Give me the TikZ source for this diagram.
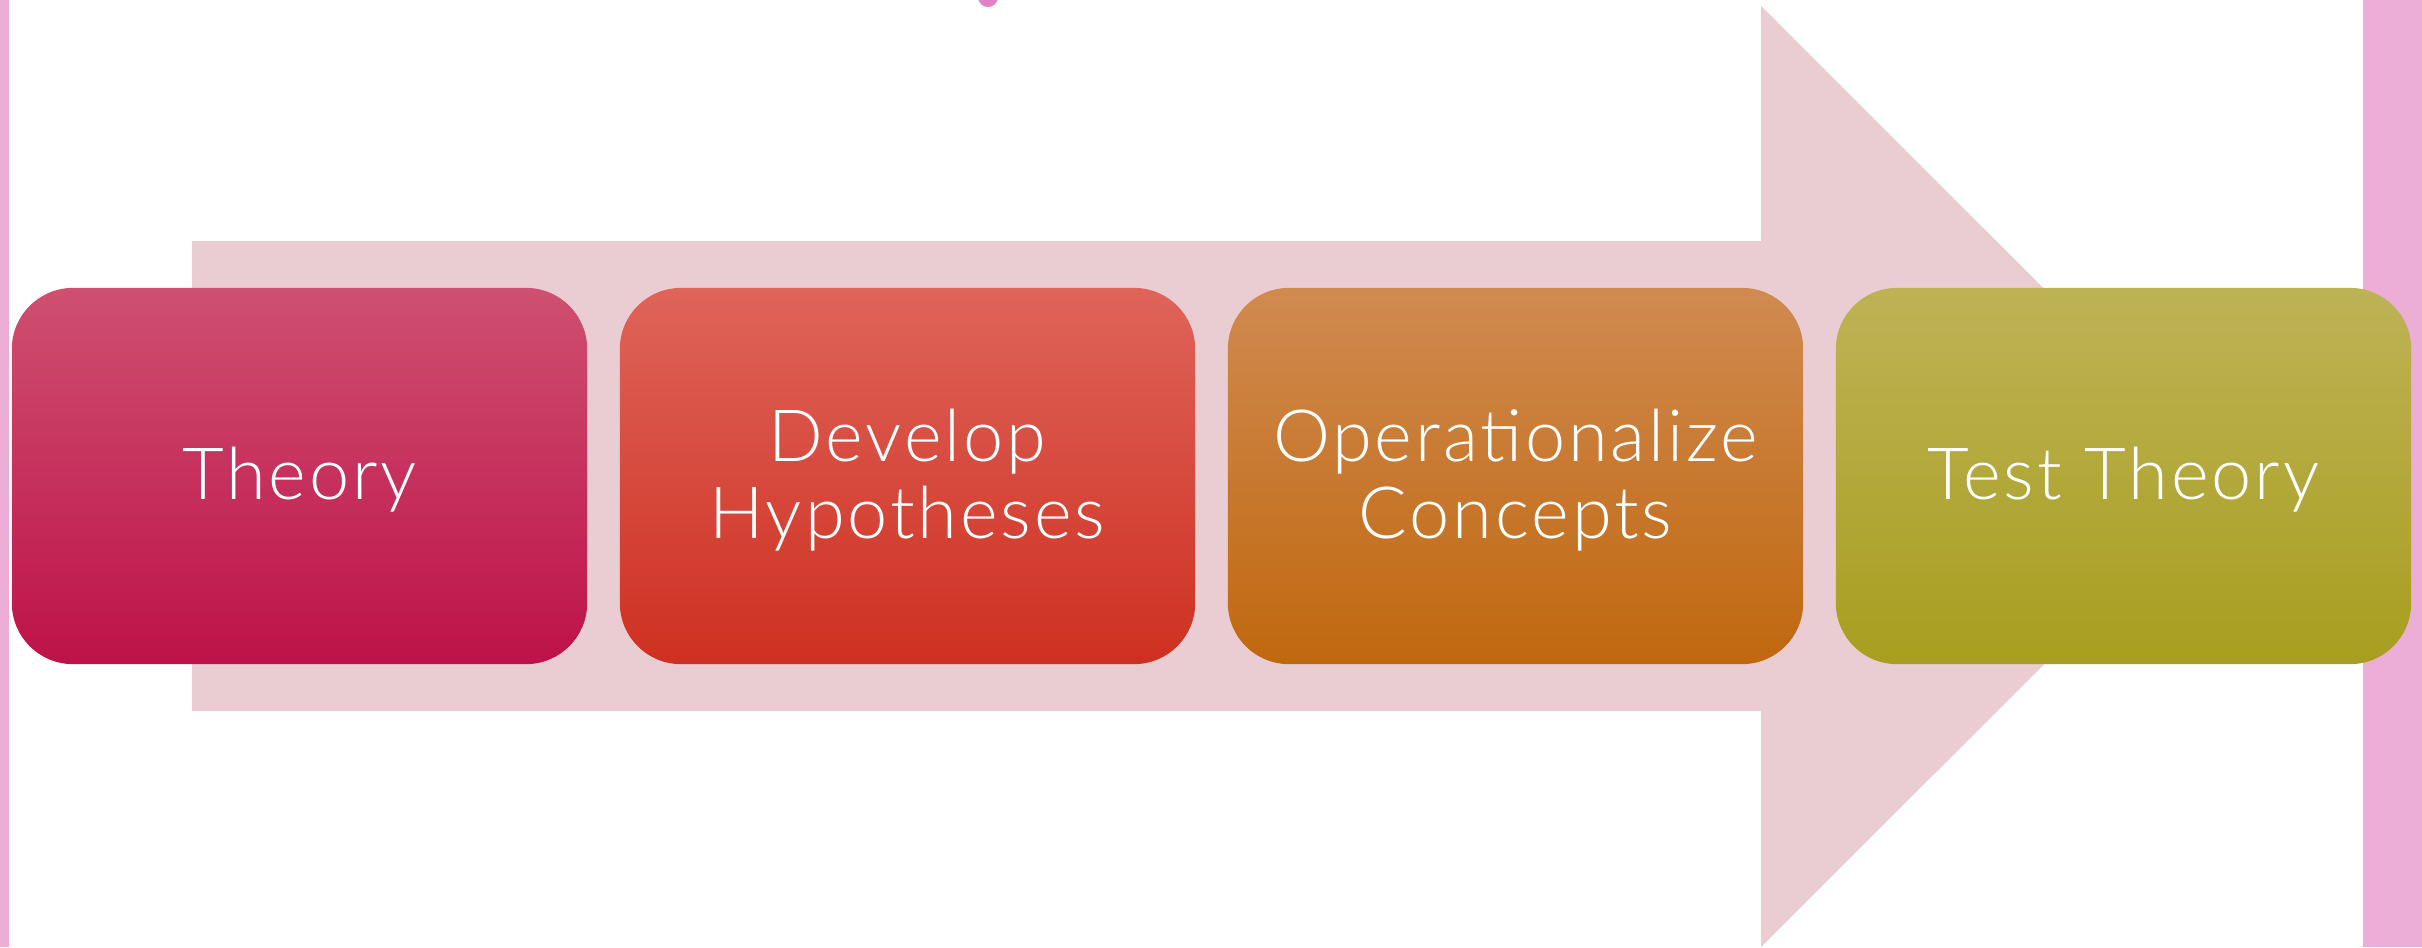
\documentclass[tikz,border=0pt]{standalone}
\usepackage{fontspec}
\setmainfont{Lato}[UprightFont={* Light}, LetterSpace=4]
\definecolor{arrowpink}{HTML}{E9CDD2}
\definecolor{barpink}{HTML}{ECAED6}
\definecolor{dotpink}{HTML}{E082C4}
\definecolor{aTop}{HTML}{CF5070}
\definecolor{aBot}{HTML}{BD1249}
\definecolor{bTop}{HTML}{DF645A}
\definecolor{bBot}{HTML}{CE3021}
\definecolor{cTop}{HTML}{D08A50}
\definecolor{cBot}{HTML}{C0680F}
\definecolor{dTop}{HTML}{BDB356}
\definecolor{dBot}{HTML}{A89E1F}
\begin{document}
\begin{tikzpicture}[x=0.01cm,y=-0.01cm,
  stepbox/.style={rounded corners=0.61cm, minimum width=5.75cm, minimum height=3.76cm, inner sep=0pt},
  steptext/.style={text=white, font=\fontsize{20.5}{22}\selectfont, align=center, inner sep=0pt}]
\useasboundingbox (0,0) rectangle (2422,947);
\clip (0,0) rectangle (2422,947);
\fill[white] (0,0) rectangle (2422,947);
% bars
\fill[barpink] (0,0) rectangle (9,947);
\fill[barpink] (2363,0) rectangle (2422,947);
\fill[dotpink] (988,-3) circle (10);
% big arrow
\fill[arrowpink] (192,241) -- (1761,241) -- (1761,6) -- (2232,476.5) -- (1761,947) -- (1761,711) -- (192,711) -- cycle;
% boxes
\node[stepbox, top color=aTop, bottom color=aBot] (b1) at (299.5,476) {};
\node[stepbox, top color=bTop, bottom color=bBot] (b2) at (907.5,476) {};
\node[stepbox, top color=cTop, bottom color=cBot] (b3) at (1515.5,476) {};
\node[stepbox, top color=dTop, bottom color=dBot] (b4) at (2123.5,476) {};
\node[steptext] (t1) at ([yshift=-0.04cm]b1.center) {Theory};
\node[steptext] (t2) at ([yshift=-0.04cm]b2.center) {Develop\\Hypotheses};
\node[steptext] (t3) at ([yshift=-0.04cm]b3.center) {Operationalize\\Concepts};
\node[steptext] (t4) at ([yshift=-0.04cm]b4.center) {Test Theory};
\end{tikzpicture}
\end{document}
